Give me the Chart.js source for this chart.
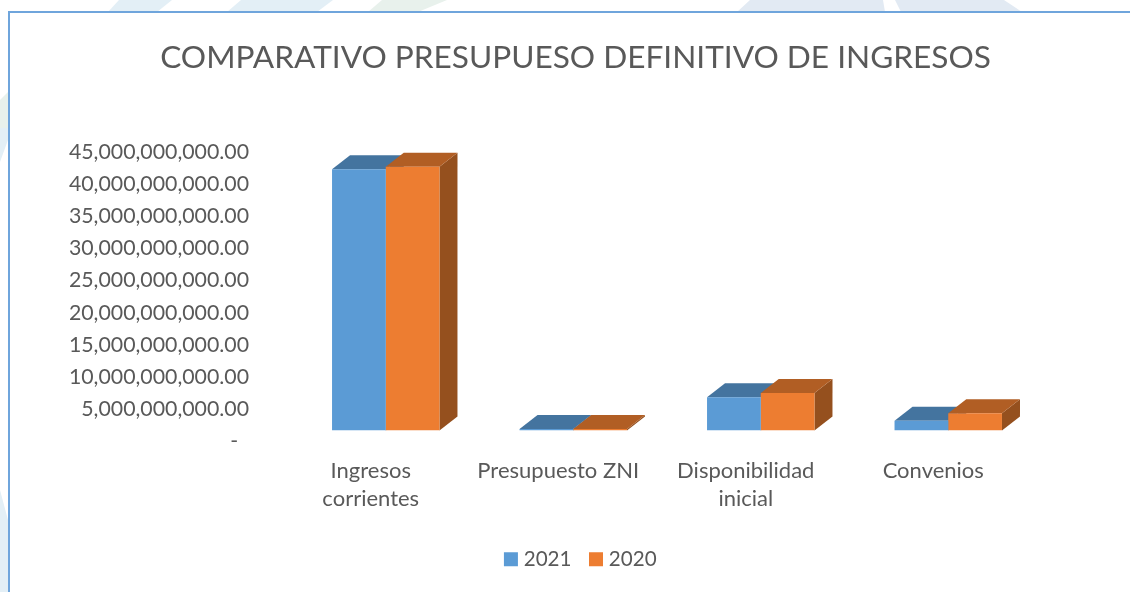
<!DOCTYPE html>
<html lang="es">
<head>
    <meta charset="UTF-8">
    <title>Comparativo presupuesto definitivo de ingresos</title>
    <script src="https://cdn.jsdelivr.net/npm/chart.js"></script>
    <style>
        html, body {
            margin: 0;
            padding: 0;
            background: #fff;
            overflow: hidden;
        }
        #page {
            position: relative;
            width: 1130px;
            height: 592px;
            overflow: hidden;
        }
        #decor {
            position: absolute;
            left: 0;
            top: 0;
        }
        #box {
            position: absolute;
            left: 8px;
            top: 11px;
            width: 1122px;
            height: 581px;
            background: #fff;
            border-top: 2px solid #6fa5dc;
            border-left: 2px solid #6fa5dc;
        }
        canvas {
            position: absolute;
            left: 0;
            top: 0;
        }
    </style>
</head>
<body>
    <div id="page">
        <svg id="decor" width="1130" height="592">
            <polygon points="119,0 172,0 157,12 108,12" fill="#e3eff6"/>
            <polygon points="241,0 333,0 317,12 227,12" fill="#e3eff6"/>
            <polygon points="382,0 447,0 418,12 368,12" fill="#e8f1ec"/>
            <polygon points="750,0 883,0 885,12 737,12" fill="#e2eaf3"/>
            <polygon points="895,0 1004,0 1022,12 901,12" fill="#e2eaf3"/>
            <polygon points="0,100 8,92 8,128 0,128" fill="#e8f1ec"/>
            <polygon points="0,128 8,128 8,140 0,162" fill="#e3eff6"/>
            <polygon points="0,490 8,520 8,592 0,592" fill="#e3eff6"/>
        </svg>
        <div id="box"></div>
        <canvas id="chartCanvas" width="1130" height="592"></canvas>
    </div>

    <script>
        const chartTitle = "COMPARATIVO PRESUPUESO DEFINITIVO DE INGRESOS";
        const categories = [["Ingresos", "corrientes"], "Presupuesto ZNI", ["Disponibilidad", "inicial"], "Convenios"];
        const seriesNames = ["2021", "2020"];
        const values2021 = [40600000000, 200000000, 5140000000, 1510000000];
        const values2020 = [41000000000, 200000000, 5800000000, 2650000000];
        const yTickLabels = [
            "-  ", "5,000,000,000.00", "10,000,000,000.00", "15,000,000,000.00", "20,000,000,000.00",
            "25,000,000,000.00", "30,000,000,000.00", "35,000,000,000.00", "40,000,000,000.00", "45,000,000,000.00"
        ];

        const textColor = "#595959";
        const frontColors = ["#5b9bd5", "#ed7d31"];
        const topColors = ["#44749f", "#b15e24"];
        const sideColors = ["#3e6a92", "#95501e"];
        const depthX = 18;
        const depthY = 14;
        const fontName = "Lato, sans-serif";

        // fills a four sided face of the box
        function face(ctx, color, pts) {
            ctx.fillStyle = color;
            ctx.beginPath();
            ctx.moveTo(pts[0][0], pts[0][1]);
            for (let i = 1; i < pts.length; i++) {
                ctx.lineTo(pts[i][0], pts[i][1]);
            }
            ctx.closePath();
            ctx.fill();
        }

        // top and side of each bar, the front is the normal Chart.js bar
        const depthFaces = {
            id: "depthFaces",
            afterLayout(chart) {
                // title and legend are not centred on the canvas in the original
                chart.titleBlock.left += 24.5;
                chart.titleBlock.right += 24.5;
                chart.legend.left += 31.5;
                chart.legend.right += 31.5;
            },
            beforeDatasetsDraw(chart) {
                const ctx = chart.ctx;
                chart.data.datasets.forEach((ds, i) => {
                    chart.getDatasetMeta(i).data.forEach((bar) => {
                        const l = bar.x - bar.width / 2;
                        const r = bar.x + bar.width / 2;
                        face(ctx, sideColors[i], [[r, bar.y], [r + depthX, bar.y - depthY], [r + depthX, bar.base - depthY], [r, bar.base]]);
                        face(ctx, topColors[i], [[l, bar.y], [r, bar.y], [r + depthX, bar.y - depthY], [l + depthX, bar.y - depthY]]);
                    });
                });
            }
        };

        new Chart(document.getElementById("chartCanvas").getContext("2d"), {
            type: "bar",
            data: {
                labels: categories,
                datasets: [
                    { label: seriesNames[0], data: values2021, backgroundColor: frontColors[0] },
                    { label: seriesNames[1], data: values2020, backgroundColor: frontColors[1] }
                ]
            },
            options: {
                responsive: false,
                animation: false,
                categoryPercentage: 0.573,
                barPercentage: 1,
                layout: { padding: { left: 60, right: 88, top: 0, bottom: 12.5 } },
                plugins: {
                    tooltip: { enabled: false },
                    title: {
                        display: true,
                        text: chartTitle,
                        color: textColor,
                        font: { family: fontName, size: 31.6, weight: "normal", lineHeight: 1.2 },
                        padding: { top: 39, bottom: 64 }
                    },
                    legend: {
                        position: "bottom",
                        labels: {
                            color: textColor,
                            font: { family: fontName, size: 20.6 },
                            boxWidth: 5,
                            boxHeight: 5,
                            padding: 22,
                            generateLabels(chart) {
                                return Chart.defaults.plugins.legend.labels.generateLabels(chart).map((item) => {
                                    item.lineWidth = 9;
                                    item.strokeStyle = item.fillStyle;
                                    return item;
                                });
                            }
                        }
                    }
                },
                scales: {
                    x: {
                        grid: { display: false },
                        border: { display: false },
                        afterFit(scale) { scale.height = 96.5; },
                        ticks: {
                            color: textColor,
                            font: { family: fontName, size: 22, lineHeight: 1.27 },
                            padding: 19,
                            labelOffset: -15,
                            maxRotation: 0,
                            autoSkip: false
                        }
                    },
                    y: {
                        min: 0,
                        max: 45000000000,
                        grid: { display: false },
                        border: { display: false },
                        afterFit(scale) { scale.width = 232; },
                        ticks: {
                            stepSize: 5000000000,
                            color: textColor,
                            font: { family: fontName, size: 21.3 },
                            padding: 35,
                            labelOffset: 11,
                            callback: (value, index) => yTickLabels[index]
                        }
                    }
                }
            },
            plugins: [depthFaces]
        });
    </script>
</body>
</html>
